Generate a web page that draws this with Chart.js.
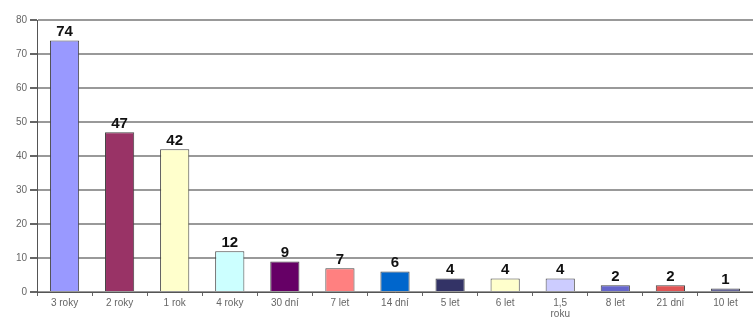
<!DOCTYPE html>
<html>
<head>
<meta charset="utf-8">
<script src="https://cdn.jsdelivr.net/npm/chart.js@4/dist/chart.umd.min.js"></script>
<style>
  html, body { margin: 0; padding: 0; background: #fff; }
  #wrap { width: 753px; height: 329px; }
</style>
</head>
<body>
<div id="wrap"><canvas id="chart" width="753" height="329"></canvas></div>
<script>
const labels = ["3 roky", "2 roky", "1 rok", "4 roky", "30 dní", "7 let", "14 dní", "5 let", "6 let", ["1,5", "roku"], "8 let", "21 dní", "10 let"];
const counts = [74, 47, 42, 12, 9, 7, 6, 4, 4, 4, 2, 2, 1];
const barColors = ["#9999ff", "#993366", "#ffffcc", "#ccffff", "#660066", "#ff8080", "#0066cc",
                   "#333366", "#ffffcc", "#ccccff", "#6666cc", "#e05555", "#666699"];

// numbers above each bar
const valueLabels = {
  id: "valueLabels",
  afterDatasetsDraw(chart) {
    const ctx = chart.ctx;
    const meta = chart.getDatasetMeta(0);
    ctx.save();
    ctx.font = "bold 15px 'Liberation Sans', Arial, sans-serif";
    ctx.fillStyle = "#111";
    ctx.textAlign = "center";
    ctx.textBaseline = "bottom";
    meta.data.forEach((bar, i) => {
      ctx.fillText(String(counts[i]), bar.x, bar.y - 1);
    });
    ctx.restore();
  }
};

const tickFont = { family: "'Liberation Sans', Arial, sans-serif", size: 10, lineHeight: 1.1 };

new Chart(document.getElementById("chart"), {
  type: "bar",
  data: {
    labels: labels,
    datasets: [{
      data: counts,
      backgroundColor: barColors,
      borderColor: "#444",
      borderWidth: 1,
      barPercentage: 0.53,
      categoryPercentage: 1
    }]
  },
  options: {
    responsive: false,
    animation: false,
    layout: { padding: { top: 20, right: 0, left: 0, bottom: 0 } },
    plugins: {
      legend: { display: false },
      tooltip: { enabled: false }
    },
    scales: {
      y: {
        min: 0,
        max: 80,
        afterFit(scale) { scale.width = 37; },
        ticks: { stepSize: 10, color: "#666", padding: 3, font: tickFont },
        grid: { color: "#999", lineWidth: 2, tickLength: 7, tickColor: "#666" },
        border: { color: "#555", width: 1 }
      },
      x: {
        afterFit(scale) { scale.height = 37; },
        ticks: { color: "#666", padding: 2, maxRotation: 0, autoSkip: false, font: tickFont },
        grid: { display: true, drawOnChartArea: false, offset: true, tickLength: 4, tickColor: "#666" },
        border: { color: "#555", width: 1 }
      }
    }
  },
  plugins: [valueLabels]
});
</script>
</body>
</html>
